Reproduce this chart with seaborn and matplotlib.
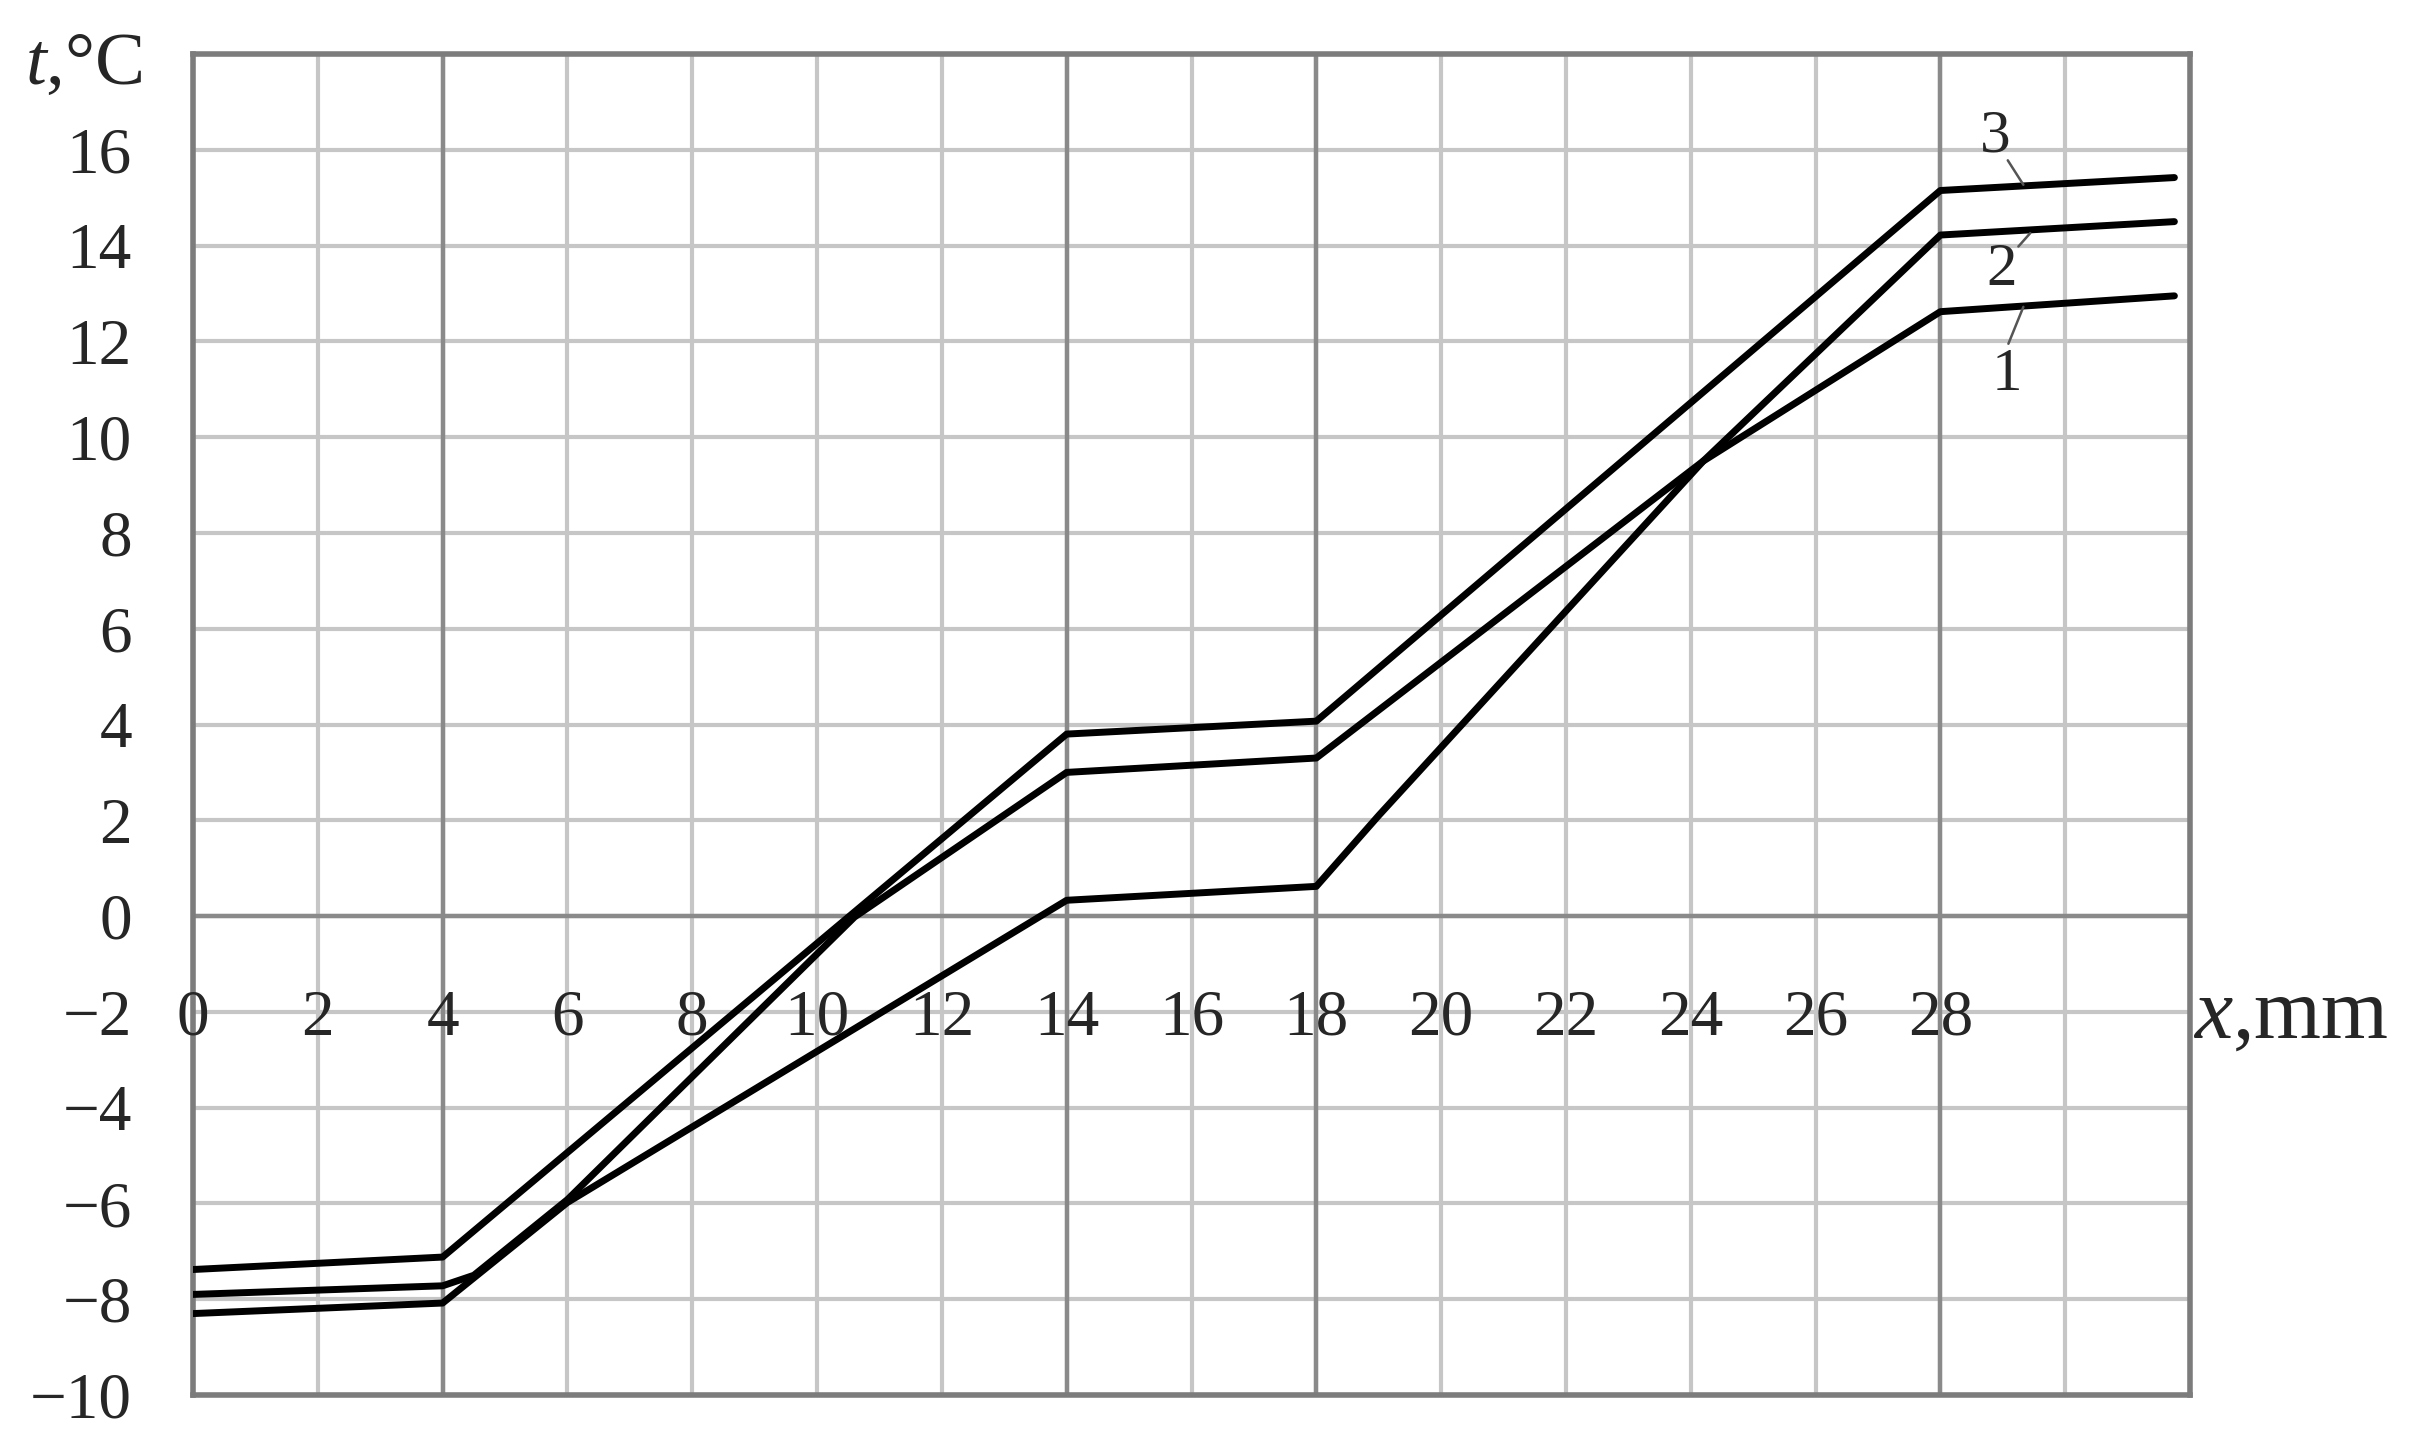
import numpy as np
import pandas as pd
import matplotlib
matplotlib.use('Agg')
import matplotlib.pyplot as plt
import seaborn as sns

# temperature profiles across the wall
x1 = [0, 4, 6, 14, 18, 19, 24.2, 28, 31.75]
t1 = [-8.3, -8.08, -5.98, 0.33, 0.62, 2.1, 9.5, 12.62, 12.95]

x2 = [0, 4, 4.5, 6, 10.6, 14, 18, 24.2, 28, 31.75]
t2 = [-7.9, -7.72, -7.5, -5.92, -0.02, 3.0, 3.3, 9.5, 14.22, 14.5]

x3 = [0, 4, 14, 18, 28, 31.75]
t3 = [-7.38, -7.12, 3.8, 4.07, 15.15, 15.42]

curve_names = ['1', '2', '3']
layer_bounds = [4, 14, 18, 28]
x_labels = list(range(0, 29, 2))
y_ticks = list(range(-10, 17, 2))

# label positions for curve numbers and their leader lines
label_pos = {'1': (29.06, 11.3), '2': (28.98, 13.48), '3': (28.88, 16.27)}
leaders = {'1': ((29.09, 11.95), (29.33, 12.72)),
           '2': ((29.25, 13.98), (29.44, 14.26)),
           '3': ((29.08, 15.78), (29.33, 15.27))}

sns.set_style('white')
plt.rcParams['font.family'] = ['Liberation Serif', 'DejaVu Serif']
plt.rcParams['mathtext.fontset'] = 'custom'
plt.rcParams['mathtext.it'] = 'Liberation Serif:italic'
plt.rcParams['mathtext.rm'] = 'Liberation Serif'

df = pd.concat([
    pd.DataFrame({'x': x1, 't': t1, 'curve': '1'}),
    pd.DataFrame({'x': x2, 't': t2, 'curve': '2'}),
    pd.DataFrame({'x': x3, 't': t3, 'curve': '3'}),
])

W, H = 2422, 1430
fig = plt.figure(figsize=(W / 100, H / 100), dpi=100)
ax = fig.add_axes([193 / W, 1 - 1395 / H, (2190 - 193) / W, (1395 - 54) / H])

sns.lineplot(data=df, x='x', y='t', units='curve', estimator=None, sort=False,
             color='black', linewidth=5, ax=ax, zorder=5, legend=False)

ax.set_xlim(0, 32)
ax.set_ylim(-10, 18)
ax.set_xticks(np.arange(0, 33, 2))
ax.set_yticks(np.arange(-10, 19, 2))
ax.grid(True, color='#c6c6c6', linewidth=3)
ax.set_axisbelow(True)

for xb in layer_bounds:
    ax.axvline(xb, color='#8a8a8a', linewidth=3.2, zorder=1)
ax.axhline(0, color='#8a8a8a', linewidth=3.2, zorder=1)

for s in ax.spines.values():
    s.set_color('#7c7c7c')
    s.set_linewidth(4)

# y tick labels only on the listed values
ax.set_yticklabels([str(v).replace('-', '\u2212') if v in y_ticks else '' for v in range(-10, 19, 2)])
ax.tick_params(axis='y', length=0, pad=44, labelsize=47)
ax.tick_params(axis='x', length=0, labelbottom=False)
ax.set_xlabel('')
ax.set_ylabel('')

# x labels sit on the t = -2 row inside the plot
for xv in x_labels:
    ax.text(xv, -2, str(xv), ha='center', va='center_baseline', fontsize=47, zorder=3)

for name in curve_names:
    lx, ly = label_pos[name]
    ax.text(lx, ly, name, ha='center', va='center', fontsize=44, zorder=6)
    (ax0, ay0), (ax1, ay1) = leaders[name]
    ax.plot([ax0, ax1], [ay0, ay1], color='#555555', linewidth=1.8, zorder=6)

fig.text(25 / W, 1 - 84 / H, '$t$,\u00b0C', fontsize=54, va='baseline', ha='left')
fig.text(2193 / W, 1 - 1038 / H, '$x$,mm', fontsize=62, va='baseline', ha='left')

fig.savefig('out.png', dpi=100)
